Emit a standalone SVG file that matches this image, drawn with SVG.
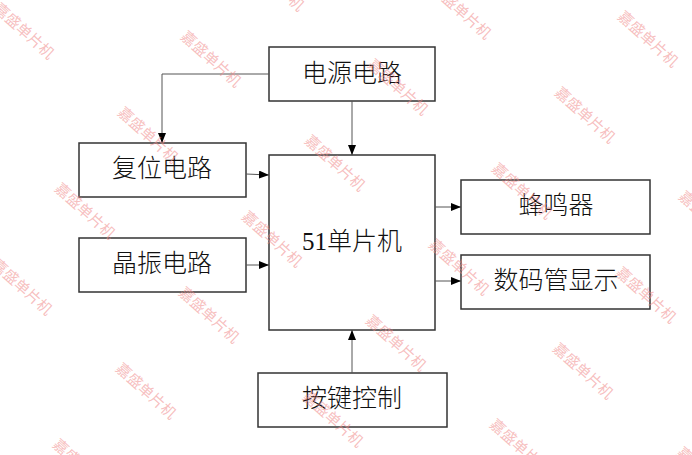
<svg xmlns="http://www.w3.org/2000/svg" width="692" height="455" viewBox="0 0 692 455">
<defs>
<marker id="arr" viewBox="0 0 10 8" refX="10" refY="4" markerWidth="10" markerHeight="8" markerUnits="userSpaceOnUse" orient="auto">
<path d="M0,0 L10,4 L0,8 Z" fill="#000"/>
</marker>
</defs>
<style>
.box{fill:#fff;stroke:#333;stroke-width:1.5}
.lbl{font-family:"Liberation Serif","Noto Sans CJK SC",serif;font-size:25px;font-weight:300;fill:#111;text-anchor:middle;dominant-baseline:central}
.con{fill:none;stroke:#555;stroke-width:1;marker-end:url(#arr)}
.wm{font-family:"Noto Sans CJK SC",sans-serif;font-size:15px;fill:#f08a8a;fill-opacity:0.55;text-anchor:middle;dominant-baseline:central}
</style>
<rect width="692" height="455" fill="#fff"/>
<g id="power"><rect class="box" x="269" y="47" width="166" height="54"/><text class="lbl" x="352" y="73">电源电路</text></g>
<g id="reset"><rect class="box" x="79" y="143" width="167" height="54"/><text class="lbl" x="162" y="168">复位电路</text></g>
<g id="mcu"><rect class="box" x="269" y="155" width="166" height="175"/><text class="lbl" x="352" y="241">51单片机</text></g>
<g id="crystal"><rect class="box" x="79" y="238" width="167" height="54"/><text class="lbl" x="162" y="263">晶振电路</text></g>
<g id="buzzer"><rect class="box" x="461" y="180" width="189" height="54"/><text class="lbl" x="556" y="205">蜂鸣器</text></g>
<g id="display"><rect class="box" x="461" y="255" width="189" height="54"/><text class="lbl" x="556" y="280">数码管显示</text></g>
<g id="keys"><rect class="box" x="258" y="373" width="189" height="54"/><text class="lbl" x="352" y="398">按键控制</text></g>
<g id="connectors">
<path class="con" d="M269,74 H162 V143"/>
<path class="con" d="M352,101 V155"/>
<path class="con" d="M246,174 L269,175"/>
<path class="con" d="M246,265 H269"/>
<path class="con" d="M435,207 H461"/>
<path class="con" d="M435,281 H461"/>
<path class="con" d="M352,373 V330"/>
</g>
<g id="watermark">
<text class="wm" transform="translate(25,30) rotate(42)">嘉盛单片机</text>
<text class="wm" transform="translate(212,58) rotate(42)">嘉盛单片机</text>
<text class="wm" transform="translate(399,86) rotate(42)">嘉盛单片机</text>
<text class="wm" transform="translate(586,114) rotate(42)">嘉盛单片机</text>
<text class="wm" transform="translate(275,-18) rotate(42)">嘉盛单片机</text>
<text class="wm" transform="translate(462,10) rotate(42)">嘉盛单片机</text>
<text class="wm" transform="translate(649,38) rotate(42)">嘉盛单片机</text>
<text class="wm" transform="translate(149,134) rotate(42)">嘉盛单片机</text>
<text class="wm" transform="translate(336,162) rotate(42)">嘉盛单片机</text>
<text class="wm" transform="translate(523,190) rotate(42)">嘉盛单片机</text>
<text class="wm" transform="translate(710,218) rotate(42)">嘉盛单片机</text>
<text class="wm" transform="translate(86,210) rotate(42)">嘉盛单片机</text>
<text class="wm" transform="translate(273,238) rotate(42)">嘉盛单片机</text>
<text class="wm" transform="translate(460,266) rotate(42)">嘉盛单片机</text>
<text class="wm" transform="translate(647,294) rotate(42)">嘉盛单片机</text>
<text class="wm" transform="translate(23,286) rotate(42)">嘉盛单片机</text>
<text class="wm" transform="translate(210,314) rotate(42)">嘉盛单片机</text>
<text class="wm" transform="translate(397,342) rotate(42)">嘉盛单片机</text>
<text class="wm" transform="translate(584,370) rotate(42)">嘉盛单片机</text>
<text class="wm" transform="translate(147,390) rotate(42)">嘉盛单片机</text>
<text class="wm" transform="translate(334,418) rotate(42)">嘉盛单片机</text>
<text class="wm" transform="translate(521,446) rotate(42)">嘉盛单片机</text>
<text class="wm" transform="translate(708,474) rotate(42)">嘉盛单片机</text>
<text class="wm" transform="translate(84,466) rotate(42)">嘉盛单片机</text>
</g>
</svg>
